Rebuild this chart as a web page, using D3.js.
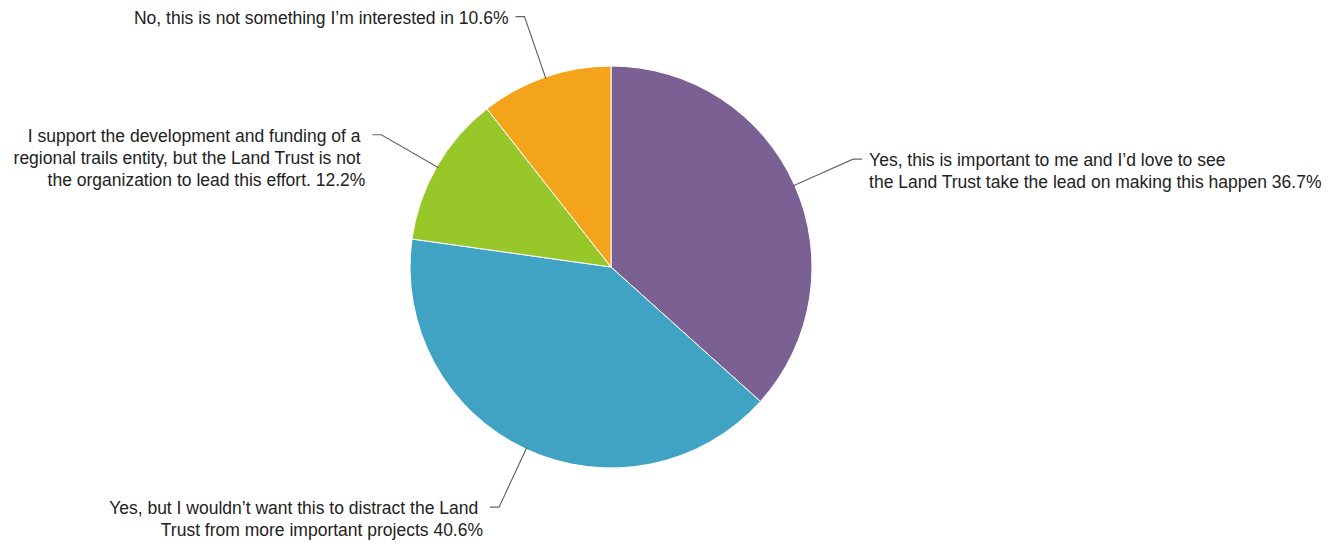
<!DOCTYPE html>
<html>
<head>
<meta charset="utf-8">
<script src="https://cdn.jsdelivr.net/npm/d3@7"></script>
<style>
  html, body { margin: 0; padding: 0; background: #fff; }
  svg { display: block; }
  .slice { stroke: #fff; stroke-width: 1; }
  .leader { fill: none; stroke: #666; stroke-width: 1.2; }
  .label { font-family: "Liberation Sans", Arial, Helvetica, sans-serif; font-size: 17.5px; fill: #222; white-space: pre; }
</style>
</head>
<body>
<div id="chart"></div>
<script>
// answers, clockwise from 12 o'clock (wrapped lines keep their trailing space)
var labelLines = [
    ["Yes, this is important to me and I\u2019d love to see ", "the Land Trust take the lead on making this happen 36.7%"],
    ["Yes, but I wouldn\u2019t want this to distract the Land ", "Trust from more important projects 40.6%"],
    ["I support the development and funding of a ", "regional trails entity, but the Land Trust is not ", "the organization to lead this effort. 12.2%"],
    ["No, this is not something I\u2019m interested in 10.6%"]
];
var values = [36.7, 40.6, 12.2, 10.6];
var colors = ["#7b6093", "#41a3c3", "#98c72a", "#f4a41b"];

var width = 1342, height = 546;
var cx = 611, cy = 267, radius = 201;
var elbowRadius = 265;
var tailLength = 9, textGap = 7, lineHeight = 22;

var svg = d3.select("#chart").append("svg")
    .attr("width", width)
    .attr("height", height);

var g = svg.append("g").attr("transform", "translate(" + cx + "," + cy + ")");

var data = values.map(function (v, i) {
    return {value: v, color: colors[i], lines: labelLines[i]};
});

var pie = d3.pie().sort(null).value(function (d) { return d.value; });
var arc = d3.arc().innerRadius(0).outerRadius(radius);
var arcs = pie(data);

g.selectAll("path.slice").data(arcs).enter().append("path")
    .attr("class", "slice")
    .attr("d", arc)
    .attr("fill", function (d) { return d.data.color; });

function midAngle(d) { return (d.startAngle + d.endAngle) / 2; }
function polar(a, r) { return [r * Math.sin(a), -r * Math.cos(a)]; }

// leader lines: slice edge -> elbow -> short horizontal tail
g.selectAll("polyline.leader").data(arcs).enter().append("polyline")
    .attr("class", "leader")
    .attr("points", function (d) {
        var a = midAngle(d);
        var side = Math.sin(a) >= 0 ? 1 : -1;
        var p0 = polar(a, radius - 2);
        var p1 = polar(a, elbowRadius);
        var p2 = [p1[0] + side * tailLength, p1[1]];
        return [p0, p1, p2].map(function (p) { return p.join(","); }).join(" ");
    });

var labels = g.selectAll("text.label").data(arcs).enter().append("text")
    .attr("class", "label")
    .attr("text-anchor", function (d) { return Math.sin(midAngle(d)) >= 0 ? "start" : "end"; })
    .attr("transform", function (d) {
        var a = midAngle(d);
        var side = Math.sin(a) >= 0 ? 1 : -1;
        var p1 = polar(a, elbowRadius);
        return "translate(" + (p1[0] + side * (tailLength + textGap)) + "," + (p1[1] + 7) + ")";
    });

labels.selectAll("tspan").data(function (d) { return d.data.lines; }).enter().append("tspan")
    .attr("x", 0)
    .attr("y", function (t, i) { return i * lineHeight; })
    .text(function (t) { return t; });
</script>
</body>
</html>
